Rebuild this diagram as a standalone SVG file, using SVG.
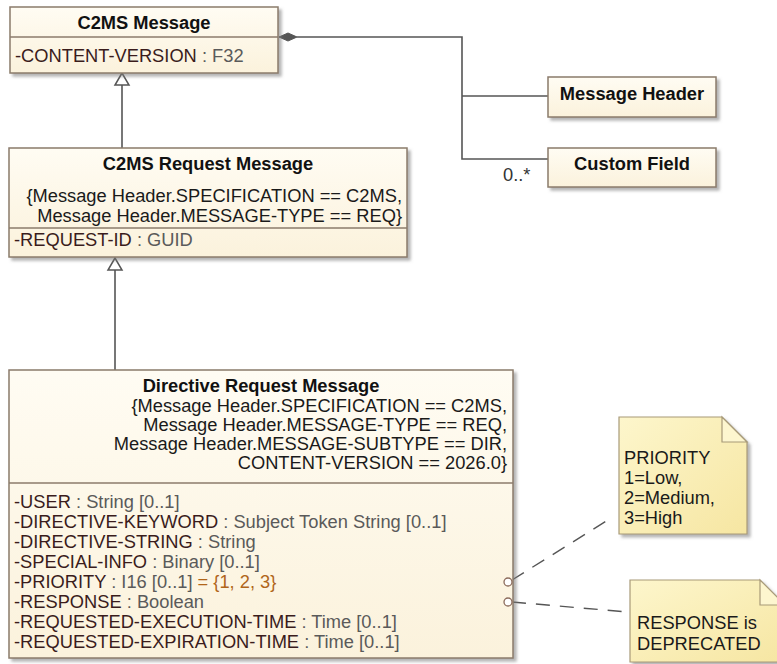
<svg xmlns="http://www.w3.org/2000/svg" width="777" height="664" viewBox="0 0 777 664">
<style>
text{font-family:"Liberation Sans",Arial,sans-serif;font-size:18.3px;fill:#1a1a1a}
.t{font-weight:bold;text-anchor:middle;fill:#111}
.c{text-anchor:end;fill:#1a1a1a}
.n{fill:#3a1c1c}
.ty{fill:#5a5a5a}
.dv{fill:#b0651a}
.box{fill:url(#cls);stroke:#8b7b6b;stroke-width:1.5;filter:url(#sh)}
.sep{stroke:#8b7b6b;stroke-width:1.5}
.note{fill:url(#nt);stroke:#a89a78;stroke-width:1.2;filter:url(#sh)}
.fold{fill:#fdf6cf;stroke:#a89a78;stroke-width:1.2}
.ln{fill:none;stroke:#555;stroke-width:1.6}
.dash{fill:none;stroke:#555;stroke-width:1.4;stroke-dasharray:14 10}
.gen{fill:#fff;stroke:#555;stroke-width:1.5}
.pt{fill:#fff;stroke:#8b6b5b;stroke-width:1.3}
</style>
<defs>
<linearGradient id="cls" x1="0" y1="0" x2="0" y2="1"><stop offset="0" stop-color="#fffcf3"/><stop offset="1" stop-color="#fbf2dc"/></linearGradient>
<linearGradient id="nt" x1="0" y1="0" x2="1" y2="1"><stop offset="0" stop-color="#fdf6cc"/><stop offset="1" stop-color="#f6e6a2"/></linearGradient>
<filter id="sh" x="-10%" y="-10%" width="130%" height="130%"><feDropShadow dx="3" dy="3" stdDeviation="1.5" flood-color="#777" flood-opacity="0.55"/></filter>
</defs>
<rect width="777" height="664" fill="#fff"/>

<g id="connectors">
<path class="ln" d="M297,37 H462 V159 H548 M462,96 H548"/>
<polygon points="279,37 288,33 297,37 288,41" fill="#555" stroke="#555" stroke-width="1"/>
<text x="503" y="181" style="fill:#333">0..*</text>
<path class="ln" d="M122,85 V148"/>
<polygon class="gen" points="122,73 115,85 129,85"/>
<path class="ln" d="M115,270 V370"/>
<polygon class="gen" points="115,258 108,270 122,270"/>
<path class="dash" d="M512,580 L608,520"/>
<path class="dash" d="M512,602 L628,612"/>
</g>

<g id="c2ms-message">
<rect class="box" x="10" y="7" width="268" height="66"/>
<line class="sep" x1="10" y1="37" x2="278" y2="37"/>
<text class="t" x="144" y="29">C2MS Message</text>
<text x="15" y="62"><tspan class="n">-CONTENT-VERSION</tspan><tspan class="ty"> : F32</tspan></text>
</g>

<g id="message-header">
<rect class="box" x="548" y="77" width="168" height="40"/>
<text class="t" x="632" y="100">Message Header</text>
</g>

<g id="custom-field">
<rect class="box" x="548" y="148" width="168" height="39"/>
<text class="t" x="632" y="170">Custom Field</text>
</g>

<g id="c2ms-request-message">
<rect class="box" x="9" y="148" width="398" height="109"/>
<text class="t" x="208" y="170">C2MS Request Message</text>
<text class="c" x="402" y="202">{Message Header.SPECIFICATION == C2MS,</text>
<text class="c" x="402" y="222">Message Header.MESSAGE-TYPE == REQ}</text>
<line class="sep" x1="9" y1="228" x2="407" y2="228"/>
<text x="14" y="246"><tspan class="n">-REQUEST-ID</tspan><tspan class="ty"> : GUID</tspan></text>
</g>

<g id="directive-request-message">
<rect class="box" x="9" y="370" width="504" height="288"/>
<text class="t" x="261" y="392">Directive Request Message</text>
<text class="c" x="507" y="412">{Message Header.SPECIFICATION == C2MS,</text>
<text class="c" x="507" y="431">Message Header.MESSAGE-TYPE == REQ,</text>
<text class="c" x="507" y="450">Message Header.MESSAGE-SUBTYPE == DIR,</text>
<text class="c" x="507" y="469">CONTENT-VERSION == 2026.0}</text>
<line class="sep" x1="9" y1="483" x2="513" y2="483"/>
<text x="14" y="508"><tspan class="n">-USER</tspan><tspan class="ty"> : String [0..1]</tspan></text>
<text x="14" y="528"><tspan class="n">-DIRECTIVE-KEYWORD</tspan><tspan class="ty"> : Subject Token String [0..1]</tspan></text>
<text x="14" y="548"><tspan class="n">-DIRECTIVE-STRING</tspan><tspan class="ty"> : String</tspan></text>
<text x="14" y="568"><tspan class="n">-SPECIAL-INFO</tspan><tspan class="ty"> : Binary [0..1]</tspan></text>
<text x="14" y="588"><tspan class="n">-PRIORITY</tspan><tspan class="ty"> : I16 [0..1]</tspan><tspan class="dv"> = {1, 2, 3}</tspan></text>
<text x="14" y="608"><tspan class="n">-RESPONSE</tspan><tspan class="ty"> : Boolean</tspan></text>
<text x="14" y="628"><tspan class="n">-REQUESTED-EXECUTION-TIME</tspan><tspan class="ty"> : Time [0..1]</tspan></text>
<text x="14" y="648"><tspan class="n">-REQUESTED-EXPIRATION-TIME</tspan><tspan class="ty"> : Time [0..1]</tspan></text>
<circle class="pt" cx="508" cy="582" r="4"/>
<circle class="pt" cx="508" cy="602" r="4"/>
</g>

<g id="note-priority">
<polygon class="note" points="619,417 722,417 747,442 747,534 619,534"/>
<polygon class="fold" points="722,417 722,442 747,442"/>
<text x="624" y="464">PRIORITY</text>
<text x="624" y="484">1=Low,</text>
<text x="624" y="504">2=Medium,</text>
<text x="624" y="524">3=High</text>
</g>

<g id="note-response">
<polygon class="note" points="630,580 760,580 785,605 785,662 630,662"/>
<polygon class="fold" points="760,580 760,605 785,605"/>
<text x="637" y="629">RESPONSE is</text>
<text x="637" y="650">DEPRECATED</text>
</g>
</svg>
